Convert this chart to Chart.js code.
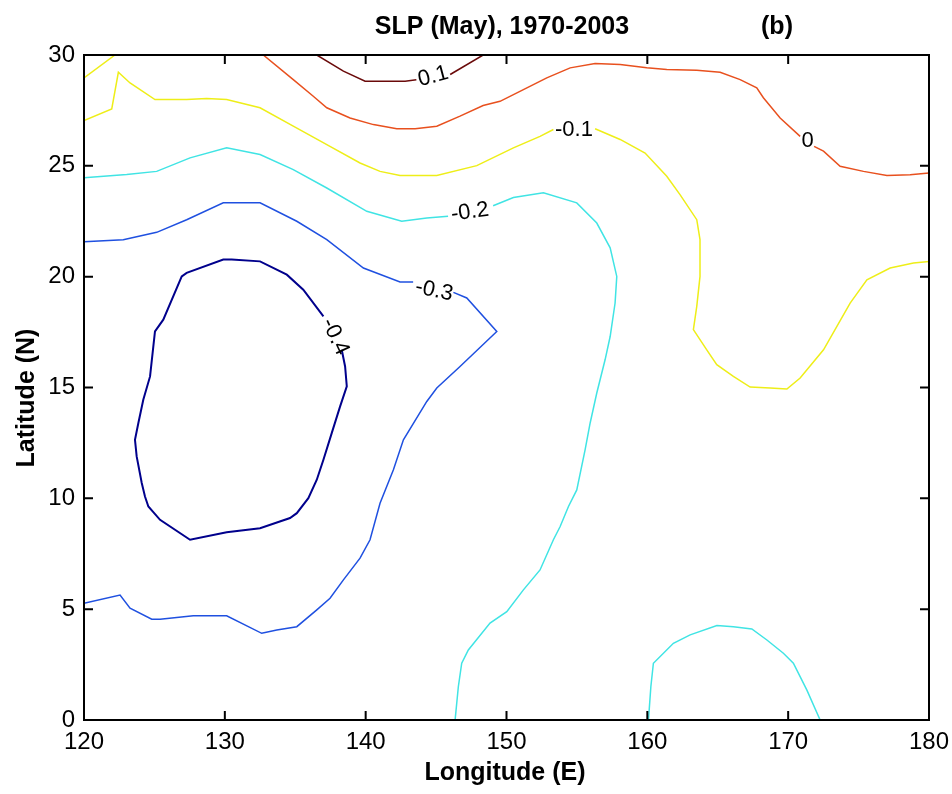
<!DOCTYPE html>
<html>
<head>
<meta charset="utf-8">
<title>SLP (May), 1970-2003</title>
<script src="https://cdn.jsdelivr.net/npm/chart.js@4.4.1/dist/chart.umd.min.js"></script>
<style>
  html, body { margin: 0; padding: 0; background: #fff; }
  #wrap { width: 952px; height: 794px; }
</style>
</head>
<body>
<div id="wrap"><canvas id="slpChart" width="952" height="794"></canvas></div>
<script>
const CHART = document.getElementById('slpChart')
const FONT = '"Liberation Sans", Arial, Helvetica, sans-serif'

// axis ticks
const lonTicks = [120, 130, 140, 150, 160, 170, 180]
const latTicks = [0, 5, 10, 15, 20, 25, 30]

// contour pieces, [lon, lat]. pieces are split where the level label sits
const lvlP01a = [[136.53, 30.0], [138.42, 29.27], [139.96, 28.82], [142.80, 28.82], [143.6, 28.88]]
const lvlP01b = [[146.0, 29.12], [148.34, 30.0]]

const lvl00a = [[132.73, 30.0], [134.86, 28.89], [136.28, 28.14], [137.24, 27.62], [138.89, 27.16],
    [140.55, 26.86], [142.21, 26.67], [143.51, 26.67], [145.05, 26.79], [146.70, 27.24],
    [148.34, 27.72], [149.54, 27.91], [151.20, 28.44], [152.86, 28.97], [154.52, 29.42],
    [156.29, 29.62], [158.07, 29.57], [159.96, 29.42], [161.38, 29.35], [163.51, 29.31],
    [165.17, 29.22], [166.59, 28.89], [167.77, 28.52], [168.24, 28.07], [169.43, 27.16],
    [170.85, 26.33]]
const lvl00b = [[171.84, 25.88], [172.51, 25.66], [173.69, 24.98], [175.35, 24.75],
    [177.01, 24.56], [178.66, 24.60], [180, 24.68]]

const lvlM01a = [[120, 28.97], [122.20, 30.0]]
const lvlM01b = [[120, 27.04], [121.97, 27.57], [122.44, 29.22], [123.27, 28.74], [125.04, 27.99],
    [127.29, 27.99], [128.71, 28.04], [130.13, 27.99], [132.50, 27.62], [134.86, 26.79],
    [137.24, 25.96], [139.60, 25.13], [141.02, 24.75], [142.44, 24.56], [145.05, 24.56],
    [147.89, 25.01], [150.49, 25.81], [152.38, 26.33], [153.33, 26.64]]
const lvlM01c = [[156.29, 26.67], [158.07, 26.19], [159.84, 25.58], [161.38, 24.53], [162.32, 23.70],
    [163.51, 22.57], [163.74, 21.67], [163.74, 20.01], [163.51, 18.66], [163.27, 17.61],
    [164.22, 16.70], [164.93, 16.03], [166.11, 15.50], [167.30, 15.02], [168.72, 14.98],
    [169.91, 14.93], [170.85, 15.43], [172.51, 16.70], [174.40, 18.81], [175.59, 19.86],
    [177.24, 20.39], [178.90, 20.62], [180, 20.69]]

const lvlM02a = [[120, 24.46], [123.03, 24.61], [125.16, 24.75], [127.53, 25.36], [130.13, 25.81],
    [132.50, 25.51], [134.86, 24.83], [137.24, 24.00], [140.08, 22.95], [142.56, 22.50],
    [144.34, 22.65], [145.85, 22.73]]
const lvlM02b = [[149.05, 23.2], [150.49, 23.57], [152.62, 23.78], [154.99, 23.33], [156.41, 22.42],
    [157.36, 21.30], [157.83, 20.01], [157.71, 18.81], [157.36, 17.30], [157.00, 16.25],
    [156.41, 14.75], [155.94, 13.40], [155.58, 12.19], [154.99, 10.38], [154.40, 9.63],
    [153.81, 8.73], [153.33, 8.13], [152.38, 6.77], [151.20, 5.87], [150.02, 4.89],
    [148.83, 4.37], [147.29, 3.16], [146.82, 2.56], [146.58, 1.50], [146.35, 0]]
const lvlM02c = [[160.08, 0], [160.25, 1.50], [160.43, 2.56], [161.85, 3.46], [163.04, 3.84],
    [164.94, 4.26], [166.11, 4.21], [167.42, 4.11], [168.49, 3.61], [169.66, 3.01],
    [170.37, 2.56], [171.33, 1.35], [172.27, 0]]

const lvlM03a = [[120, 21.57], [122.79, 21.67], [125.16, 22.00], [127.29, 22.57], [129.89, 23.33],
    [132.50, 23.33], [135.11, 22.50], [137.24, 21.67], [139.84, 20.39], [142.44, 19.76],
    [143.37, 19.76]]
const lvlM03b = [[146.23, 19.29], [147.18, 19.04], [149.31, 17.53], [146.70, 15.95], [145.05, 14.98],
    [144.34, 14.37], [142.68, 12.64], [141.97, 11.29], [141.02, 9.78], [140.31, 8.13],
    [139.60, 7.30], [138.42, 6.32], [137.47, 5.49], [136.53, 4.97], [135.11, 4.21],
    [133.69, 4.06], [132.62, 3.91], [130.13, 4.70], [127.76, 4.70], [125.40, 4.55],
    [124.81, 4.55], [123.27, 5.04], [122.56, 5.64], [120, 5.27]]

const lvlM04 = [[138.30, 16.70], [138.54, 15.95], [138.66, 15.05], [138.18, 14.14], [137.59, 12.94],
    [137.0, 11.74], [136.53, 10.84], [135.93, 10.01], [135.11, 9.33], [134.63, 9.11],
    [132.50, 8.65], [130.13, 8.47], [127.53, 8.13], [125.40, 9.03], [124.57, 9.63],
    [124.33, 10.08], [124.10, 10.69], [123.74, 11.89], [123.62, 12.64], [123.86, 13.40],
    [124.21, 14.45], [124.69, 15.50], [125.04, 17.53], [125.63, 18.06], [126.94, 20.01],
    [127.29, 20.17], [129.89, 20.77], [130.49, 20.77], [132.50, 20.69], [134.40, 20.09],
    [135.57, 19.41], [137.0, 18.21]]

// clabel text and where it sits
const labelText = ['0.1', '0', '-0.1', '-0.2', '-0.3', '-0.4']
const labelLon = [144.79, 171.38, 154.79, 147.41, 144.86, 137.83]
const labelLat = [29.03, 26.12, 26.64, 22.91, 19.37, 17.29]
const labelAngle = [-15, 0, 0, -8, 12, 65]

// jet colours per level
const levelColor = {
    p01: '#6a0a0a',
    z00: '#e8501e',
    m01: '#eeee18',
    m02: '#40e4e4',
    m03: '#1f50e0',
    m04: '#00008c'
}

const toXY = arr => arr.map(p => ({x: p[0], y: p[1]}))

const piece = (arr, color, w) => ({
    data: toXY(arr),
    borderColor: color,
    backgroundColor: color,
    borderWidth: w || 1.5,
    showLine: true,
    pointRadius: 0,
    tension: 0,
    fill: false
})

// box with inward ticks on all sides, labels, titles (MATLAB look)
const matlabBox = {
    id: 'matlabBox',
    afterDraw(chart) {
        const {ctx, chartArea: a, scales: {x, y}} = chart
        ctx.save()
        ctx.strokeStyle = '#000'
        ctx.lineWidth = 2
        ctx.strokeRect(a.left, a.top, a.right - a.left, a.bottom - a.top)
        ctx.beginPath()
        x.ticks.forEach(t => {
            const px = x.getPixelForValue(t.value)
            ctx.moveTo(px, a.bottom); ctx.lineTo(px, a.bottom - 9)
            ctx.moveTo(px, a.top); ctx.lineTo(px, a.top + 9)
        })
        y.ticks.forEach(t => {
            const py = y.getPixelForValue(t.value)
            ctx.moveTo(a.left, py); ctx.lineTo(a.left + 9, py)
            ctx.moveTo(a.right, py); ctx.lineTo(a.right - 9, py)
        })
        ctx.stroke()

        // contour labels
        ctx.fillStyle = '#000'
        ctx.font = '22px ' + FONT
        ctx.textAlign = 'center'
        ctx.textBaseline = 'middle'
        labelText.forEach((txt, i) => {
            ctx.save()
            ctx.translate(x.getPixelForValue(labelLon[i]), y.getPixelForValue(labelLat[i]))
            ctx.rotate(labelAngle[i] * Math.PI / 180)
            ctx.fillText(txt, 0, 0)
            ctx.restore()
        })

        // titles
        ctx.font = 'bold 25px ' + FONT
        ctx.textBaseline = 'alphabetic'
        ctx.fillText('SLP (May), 1970-2003', 502, 34)
        ctx.fillText('(b)', 777, 34)
        ctx.fillText('Longitude (E)', 505, 780)
        ctx.save()
        ctx.translate(34, 398)
        ctx.rotate(-Math.PI / 2)
        ctx.fillText('Latitude (N)', 0, 0)
        ctx.restore()
        ctx.restore()
    }
}

let contour = new Chart(CHART, {
    type: 'scatter',
    data: {
        datasets: [
            piece(lvlP01a, levelColor.p01),
            piece(lvlP01b, levelColor.p01),
            piece(lvl00a, levelColor.z00),
            piece(lvl00b, levelColor.z00),
            piece(lvlM01a, levelColor.m01),
            piece(lvlM01b, levelColor.m01),
            piece(lvlM01c, levelColor.m01),
            piece(lvlM02a, levelColor.m02),
            piece(lvlM02b, levelColor.m02),
            piece(lvlM02c, levelColor.m02),
            piece(lvlM03a, levelColor.m03),
            piece(lvlM03b, levelColor.m03),
            piece(lvlM04, levelColor.m04, 2)
        ]
    },
    options: {
        responsive: false,
        animation: false,
        layout: { padding: { top: 55, right: 23, left: 0, bottom: 0 } },
        plugins: {
            legend: { display: false },
            tooltip: { enabled: false }
        },
        scales: {
            x: {
                type: 'linear',
                min: 120,
                max: 180,
                afterBuildTicks: s => { s.ticks = lonTicks.map(v => ({value: v})) },
                afterFit: s => { s.height = 74; s.paddingLeft = 0; s.paddingRight = 0 },
                grid: { display: false, drawTicks: false },
                border: { display: false },
                ticks: { color: '#000', padding: 8, maxRotation: 0, font: { family: FONT, size: 24 } }
            },
            y: {
                type: 'linear',
                min: 0,
                max: 30,
                afterBuildTicks: s => { s.ticks = latTicks.map(v => ({value: v})) },
                afterFit: s => { s.width = 84; s.paddingTop = 0; s.paddingBottom = 0 },
                grid: { display: false, drawTicks: false },
                border: { display: false },
                ticks: { color: '#000', padding: 9, font: { family: FONT, size: 24 } }
            }
        }
    },
    plugins: [matlabBox]
})
</script>
</body>
</html>
